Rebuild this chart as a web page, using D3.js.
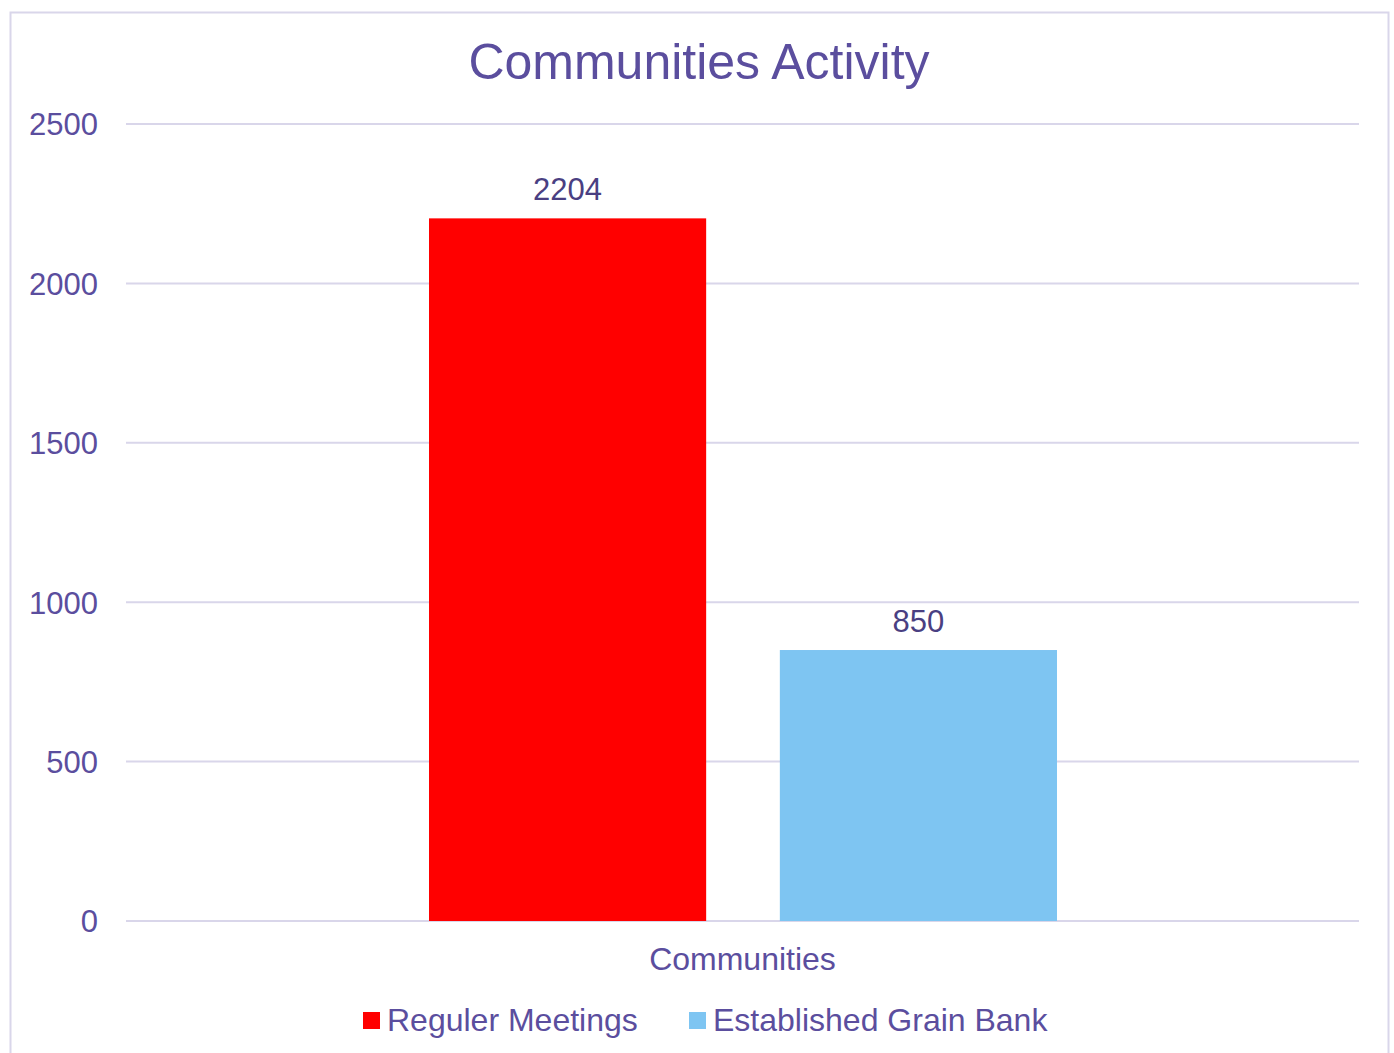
<!DOCTYPE html>
<html><head><meta charset="utf-8">
<script src="https://cdn.jsdelivr.net/npm/d3@7"></script>
<style>body{margin:0;background:#fff;}svg{display:block;font-family:"Liberation Sans",Arial,sans-serif;}</style>
</head><body>
<svg id="c" width="1394" height="1053"></svg>
<script>
const categories = ["Communities"];
const seriesNames = ["Reguler Meetings", "Established Grain Bank"];
const seriesValues = [2204, 850];
const seriesColors = ["#FF0000", "#7EC5F2"];
const yTicks = [0, 500, 1000, 1500, 2000, 2500];

const svg = d3.select("#c");
const textColor = "#5B4E9E";
const gridColor = "#D9D6EA";
const ff = "'Liberation Sans',Arial,sans-serif";

svg.append("rect").attr("x",10.5).attr("y",12.5).attr("width",1378).attr("height",1060)
  .attr("fill","#fff").attr("stroke",gridColor).attr("stroke-width",2);

const pLeft = 126, pRight = 1359, pTop = 124, pBottom = 921;
const y = d3.scaleLinear().domain([0,2500]).range([pBottom, pTop]);
const x0 = d3.scaleBand().domain(categories).range([pLeft,pRight]).paddingInner(0).paddingOuter(0);
const x1 = d3.scaleBand().domain(seriesNames).range([303, 931]).paddingInner(0.21).paddingOuter(0);

// grid
svg.append("g").selectAll("line").data(yTicks).join("line")
  .attr("x1",pLeft).attr("x2",pRight).attr("y1",d=>y(d)).attr("y2",d=>y(d))
  .attr("stroke",gridColor).attr("stroke-width",2);

// y axis labels
const yAxis = d3.axisLeft(y).tickValues(yTicks).tickFormat(d3.format("d")).tickSize(0).tickPadding(0);
const ya = svg.append("g").attr("transform","translate(98,0)").call(yAxis);
ya.select(".domain").remove();
ya.selectAll("text").attr("fill",textColor).attr("font-size",31).attr("font-family",ff).attr("dy","0.35em");

// bars
const g = svg.append("g");
categories.forEach(cat=>{
  const gx = x0(cat);
  g.selectAll("rect.bar").data(seriesNames.map((s,i)=>({s,v:seriesValues[i],c:seriesColors[i]}))).join("rect")
    .attr("class","bar")
    .attr("x",d=>gx + x1(d.s)).attr("width",x1.bandwidth())
    .attr("y",d=>y(d.v)).attr("height",d=>y(0)-y(d.v)).attr("fill",d=>d.c);
  g.selectAll("text.lbl").data(seriesNames.map((s,i)=>({s,v:seriesValues[i]}))).join("text")
    .attr("class","lbl")
    .attr("x",d=>gx + x1(d.s)+x1.bandwidth()/2).attr("y",d=>y(d.v)-18)
    .attr("text-anchor","middle").attr("fill","#4A3F82").attr("font-size",31).text(d=>d.v);
});

// x axis label
const xAxis = d3.axisBottom(x0).tickSize(0).tickPadding(0);
const xa = svg.append("g").attr("transform",`translate(0,${pBottom+26})`).call(xAxis);
xa.select(".domain").remove();
xa.selectAll("text").attr("fill",textColor).attr("font-size",32).attr("font-family",ff).attr("dy","0.71em");

// title
svg.append("text").attr("x",699).attr("y",79).attr("text-anchor","middle")
  .attr("fill",textColor).attr("font-size",50).text("Communities Activity");

// legend
const legendX = [363, 689];
const lg = svg.append("g");
seriesNames.forEach((s,i)=>{
  lg.append("rect").attr("x",legendX[i]).attr("y",1012).attr("width",17).attr("height",17).attr("fill",seriesColors[i]);
  lg.append("text").attr("x",legendX[i]+24).attr("y",1031).attr("fill",textColor).attr("font-size",32).text(s);
});
</script>
</body></html>
